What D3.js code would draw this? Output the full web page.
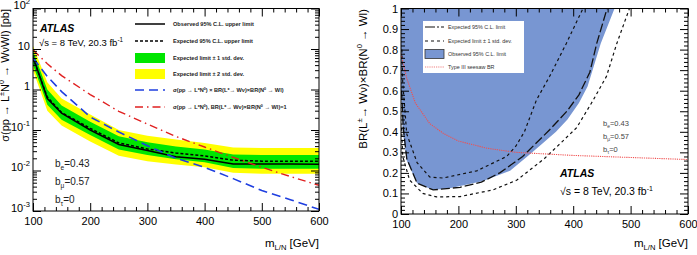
<!DOCTYPE html>
<html>
<head>
<meta charset="utf-8">
<script src="https://cdn.jsdelivr.net/npm/d3@7"></script>
<style>
  body { margin: 0; background: #fff; }
  svg { display: block; font-family: "Liberation Sans", Arial, Helvetica, sans-serif; }
</style>
</head>
<body>
<div id="chart"></div>
<script>
const
  WIDTH = 697,
  HEIGHT = 255,
  MAJOR_TICK = 8,
  MINOR_TICK = 4;

// left panel: cross-section limits vs mass
const massLeft = [100, 125, 150, 200, 250, 300, 350, 400, 450, 500, 550, 600];
const observedXs = [6.5, 0.6, 0.26, 0.1, 0.044, 0.031, 0.022, 0.019, 0.0145, 0.0145, 0.0145, 0.0142];
const expectedXs = [6, 0.65, 0.27, 0.11, 0.048, 0.034, 0.027, 0.023, 0.018, 0.017, 0.017, 0.017];
const green1Lo = [4, 0.42, 0.18, 0.075, 0.033, 0.024, 0.019, 0.016, 0.0115, 0.011, 0.011, 0.011];
const green1Hi = [9, 1.0, 0.4, 0.16, 0.07, 0.05, 0.039, 0.033, 0.025, 0.024, 0.024, 0.024];
const yellow2Lo = [3, 0.3, 0.13, 0.052, 0.023, 0.017, 0.014, 0.012, 0.0088, 0.0083, 0.0083, 0.0083];
const yellow2Hi = [12, 1.5, 0.6, 0.24, 0.1, 0.072, 0.058, 0.048, 0.037, 0.036, 0.036, 0.036];
const theoryBR = [6, 2.1, 0.89, 0.21, 0.089, 0.041, 0.02, 0.012, 0.0063, 0.0032, 0.0019, 0.0011];
const theoryBR1 = [9.5, 4.3, 2.2, 0.75, 0.29, 0.14, 0.069, 0.038, 0.021, 0.012, 0.0071, 0.0043];
const logTicks = [1e-3, 1e-2, 1e-1, 1, 10, 100];
const massTicks = [100, 200, 300, 400, 500, 600];

// right panel: BR product limit vs mass
const obsEdgeMass = [100, 103, 110, 128, 156, 185, 243, 290, 320, 345, 370, 390, 410, 425, 448, 472];
const obsEdgeBR = [0.6, 0.4, 0.26, 0.15, 0.117, 0.125, 0.16, 0.21, 0.28, 0.34, 0.4, 0.46, 0.54, 0.62, 0.83, 1.0];
const expMass = [101, 104, 110, 128, 156, 203, 240, 272, 312, 359, 389, 410, 429, 441, 459];
const expBR = [0.6, 0.42, 0.27, 0.15, 0.117, 0.13, 0.155, 0.2, 0.28, 0.41, 0.5, 0.58, 0.69, 0.83, 1.0];
const upMass = [101.5, 103, 110, 128, 150, 173, 232, 284, 300, 315, 336, 359, 388, 417];
const upBR = [0.8, 0.64, 0.39, 0.25, 0.18, 0.175, 0.21, 0.28, 0.33, 0.4, 0.555, 0.67, 0.83, 1.0];
const downMass = [101, 103, 115, 138, 162, 203, 260, 302, 350, 380, 406, 434, 458, 476, 498];
const downBR = [0.42, 0.28, 0.165, 0.1, 0.083, 0.085, 0.117, 0.165, 0.27, 0.35, 0.42, 0.55, 0.67, 0.83, 1.0];
const seesawMass = [100, 110, 125, 150, 175, 200, 250, 300, 400, 500, 600];
const seesawBR = [0.78, 0.66, 0.54, 0.44, 0.39, 0.355, 0.32, 0.30, 0.285, 0.275, 0.265];
const brTicks = [0, 0.1, 0.2, 0.3, 0.4, 0.5, 0.6, 0.7, 0.8, 0.9, 1];

const fillBlue = '#7896d2';

const svg = d3.select('#chart')
  .append('svg')
  .attr('width', WIDTH)
  .attr('height', HEIGHT);

// text with super/subscripts: parts = [[str, 'sup'|'sub'|null], ...]
function richText(sel, parts, size) {
  let shift = 0;
  parts.forEach(([str, kind]) => {
    const target = kind === 'sup' ? -0.42 * size : kind === 'sub' ? 0.28 * size : 0;
    const t = sel.append('tspan').attr('dy', target - shift).text(str);
    if (kind) t.attr('font-size', size * 0.66);
    shift = target;
  });
  return sel;
}

function cleanAxis(g) {
  g.attr('font-family', null).attr('font-size', 11);
  g.select('.domain').remove();
}

function addMassAxes(g, x, top, bottom) {
  const minors = d3.range(100, 601, 20).filter(v => v % 100 !== 0);

  g.append('g')
    .attr('transform', `translate(0,${bottom})`)
    .call(d3.axisBottom(x).tickValues(massTicks).tickSizeInner(-MAJOR_TICK).tickSizeOuter(0).tickPadding(6))
    .call(cleanAxis);
  g.append('g')
    .attr('transform', `translate(0,${bottom})`)
    .call(d3.axisBottom(x).tickValues(minors).tickSizeInner(-MINOR_TICK).tickSizeOuter(0).tickFormat(''))
    .call(cleanAxis);
  g.append('g')
    .attr('transform', `translate(0,${top})`)
    .call(d3.axisTop(x).tickValues(massTicks).tickSizeInner(-MAJOR_TICK).tickSizeOuter(0).tickFormat(''))
    .call(cleanAxis);
  g.append('g')
    .attr('transform', `translate(0,${top})`)
    .call(d3.axisTop(x).tickValues(minors).tickSizeInner(-MINOR_TICK).tickSizeOuter(0).tickFormat(''))
    .call(cleanAxis);
}

function addFrame(g, x0, y0, x1, y1) {
  g.append('rect')
    .attr('x', x0).attr('y', y0)
    .attr('width', x1 - x0).attr('height', y1 - y0)
    .attr('fill', 'none')
    .attr('stroke', '#000')
    .attr('stroke-width', 1);
}

function addClip(id, x0, y0, x1, y1) {
  svg.append('clipPath').attr('id', id)
    .append('rect')
    .attr('x', x0).attr('y', y0)
    .attr('width', x1 - x0).attr('height', y1 - y0);
}

function addMassTitle(g, xEnd) {
  richText(g.append('text')
    .attr('x', xEnd).attr('y', 247)
    .attr('text-anchor', 'end')
    .attr('font-size', 11.5), [['m', null], ['L/N', 'sub'], [' [GeV]', null]], 11.5);
}

function drawLeft() {
  const x0 = 33, x1 = 319, y0 = 8.5, y1 = 211;
  const x = d3.scaleLinear().domain([100, 600]).range([x0, x1]);
  const y = d3.scaleLog().domain([1e-3, 1e2]).range([y1, y0]);
  const g = svg.append('g');

  addClip('clipL', x0, y0, x1, y1);
  const plot = g.append('g').attr('clip-path', 'url(#clipL)');

  const band = (lo, hi) => d3.area()
    .x((d, i) => x(massLeft[i]))
    .y0((d, i) => y(lo[i]))
    .y1((d, i) => y(hi[i]));
  const curve = (vals) => d3.line()
    .x((d, i) => x(massLeft[i]))
    .y((d, i) => y(vals[i]));

  plot.append('path').datum(massLeft).attr('d', band(yellow2Lo, yellow2Hi)).attr('fill', '#ffff00');
  plot.append('path').datum(massLeft).attr('d', band(green1Lo, green1Hi)).attr('fill', '#00e600');

  const lines = [
    { vals: expectedXs, color: '#000', dash: '3,2', width: 1.5 },
    { vals: observedXs, color: '#000', dash: null, width: 1.5 },
    { vals: theoryBR, color: '#1f3fe0', dash: '9,5', width: 1.6 },
    { vals: theoryBR1, color: '#e02020', dash: '8,4,1.5,4', width: 1.4 }
  ];
  lines.forEach(l => {
    plot.append('path').datum(massLeft)
      .attr('d', curve(l.vals))
      .attr('fill', 'none')
      .attr('stroke', l.color)
      .attr('stroke-width', l.width)
      .attr('stroke-dasharray', l.dash);
  });

  addMassAxes(g, x, y0, y1);

  const logMinors = [];
  logTicks.slice(0, -1).forEach(t => d3.range(2, 10).forEach(k => logMinors.push(t * k)));

  const yAxis = g.append('g')
    .attr('transform', `translate(${x0},0)`)
    .call(d3.axisLeft(y).tickValues(logTicks).tickSizeInner(-MAJOR_TICK).tickSizeOuter(0).tickPadding(3).tickFormat(''))
    .call(cleanAxis);
  yAxis.selectAll('.tick text').each(function (d) {
    const e = Math.round(Math.log10(d));
    const parts = e === 0 ? [['1', null]] : e === 1 ? [['10', null]] : [['10', null], [String(e), 'sup']];
    richText(d3.select(this), parts, 11.5);
  });
  g.append('g')
    .attr('transform', `translate(${x0},0)`)
    .call(d3.axisLeft(y).tickValues(logMinors).tickSizeInner(-MINOR_TICK).tickSizeOuter(0).tickFormat(''))
    .call(cleanAxis);
  g.append('g')
    .attr('transform', `translate(${x1},0)`)
    .call(d3.axisRight(y).tickValues(logTicks).tickSizeInner(-MAJOR_TICK).tickSizeOuter(0).tickFormat(''))
    .call(cleanAxis);
  g.append('g')
    .attr('transform', `translate(${x1},0)`)
    .call(d3.axisRight(y).tickValues(logMinors).tickSizeInner(-MINOR_TICK).tickSizeOuter(0).tickFormat(''))
    .call(cleanAxis);

  addFrame(g, x0, y0, x1, y1);
  addMassTitle(g, x1);

  // y title, clipped by the window edge as in the original
  richText(g.append('text')
    .attr('transform', 'translate(9,9) rotate(-90)')
    .attr('text-anchor', 'end')
    .attr('font-size', 11), [['σ(pp → L', null], ['±', 'sup'], ['N', null], ['0', 'sup'], [' → WνWl) [pb]', null]], 11);

  // labels
  g.append('text').attr('x', 40).attr('y', 31.5)
    .attr('font-size', 10.5).attr('font-weight', 'bold').attr('font-style', 'italic')
    .text('ATLAS');
  richText(g.append('text').attr('x', 39).attr('y', 45.5).attr('font-size', 9.5),
    [['√s = 8 TeV, 20.3 fb', null], ['-1', 'sup']], 9.5);

  [['e', '0.43'], ['μ', '0.57'], ['τ', '0']].forEach(([flav, val], i) => {
    richText(g.append('text').attr('x', 55).attr('y', 167 + i * 18).attr('font-size', 10).attr('fill', '#222'),
      [['b', null], [flav, 'sub'], ['=' + val, null]], 10);
  });

  // legend
  const legend = g.append('g');
  const rowsY = [24, 41, 58, 74, 90, 107];
  const sx0 = 135, sx1 = 165;
  const legendItems = [
    { type: 'line', color: '#000', dash: null, width: 1.5, text: [['Observed 95% C.L. upper limit', null]] },
    { type: 'line', color: '#000', dash: '3,2', width: 1.5, text: [['Expected 95% C.L. upper limit', null]] },
    { type: 'box', color: '#00e600', text: [['Expected limit ± 1 std. dev.', null]] },
    { type: 'box', color: '#ffff00', text: [['Expected limit ± 2 std. dev.', null]] },
    { type: 'line', color: '#1f3fe0', dash: '9,5', width: 1.6,
      text: [['σ(pp → L', null], ['±', 'sup'], ['N', null], ['0', 'sup'], [') × BR(L', null], ['±', 'sup'], ['→ Wν)×BR(N', null], ['0', 'sup'], [' → Wl)', null]] },
    { type: 'line', color: '#e02020', dash: '8,4,1.5,4', width: 1.4,
      text: [['σ(pp → L', null], ['±', 'sup'], ['N', null], ['0', 'sup'], ['),  BR(L', null], ['±', 'sup'], ['→ Wν)×BR(N', null], ['0', 'sup'], [' → Wl)=1', null]] }
  ];
  legendItems.forEach((item, i) => {
    const cy = rowsY[i];
    if (item.type === 'box') {
      legend.append('rect').attr('x', sx0).attr('y', cy - 5).attr('width', sx1 - sx0).attr('height', 10).attr('fill', item.color);
    } else {
      legend.append('line').attr('x1', sx0).attr('x2', sx1).attr('y1', cy).attr('y2', cy)
        .attr('stroke', item.color).attr('stroke-width', item.width).attr('stroke-dasharray', item.dash);
    }
    richText(legend.append('text').attr('x', 173).attr('y', cy + 2)
      .attr('font-size', 5.6).attr('font-weight', 'bold').attr('fill', '#222'), item.text, 5.6);
  });
}

function drawRight() {
  const x0 = 401, x1 = 688, y0 = 8.5, y1 = 214;
  const x = d3.scaleLinear().domain([100, 600]).range([x0, x1]);
  const y = d3.scaleLinear().domain([0, 1]).range([y1, y0]);
  const g = svg.append('g');

  addClip('clipR', x0, y0, x1, y1);
  const plot = g.append('g').attr('clip-path', 'url(#clipR)');

  const line = d3.line().x(d => x(d[0])).y(d => y(d[1]));
  const zipped = (ms, vs) => ms.map((m, i) => [m, vs[i]]);

  const obsPoly = zipped(obsEdgeMass, obsEdgeBR).concat([[obsEdgeMass[obsEdgeMass.length - 1], 1.02], [99, 1.02], [99, obsEdgeBR[0]]]);
  plot.append('path').attr('d', line(obsPoly) + 'Z').attr('fill', fillBlue);

  [[upMass, upBR], [downMass, downBR]].forEach(([ms, vs]) => {
    plot.append('path').attr('d', line(zipped(ms, vs)))
      .attr('fill', 'none').attr('stroke', '#111').attr('stroke-width', 1.2).attr('stroke-dasharray', '3,3');
  });
  plot.append('path').attr('d', line(zipped(expMass, expBR)))
    .attr('fill', 'none').attr('stroke', '#111').attr('stroke-width', 1.3).attr('stroke-dasharray', '9,3');

  plot.append('path').attr('d', line(zipped(seesawMass, seesawBR)))
    .attr('fill', 'none').attr('stroke', '#f05050').attr('stroke-width', 1.1).attr('stroke-dasharray', '1.2,1');

  addMassAxes(g, x, y0, y1);

  const brMinors = d3.range(0, 1.001, 0.02).filter(v => Math.abs(v * 10 - Math.round(v * 10)) > 1e-6);
  g.append('g')
    .attr('transform', `translate(${x0},0)`)
    .call(d3.axisLeft(y).tickValues(brTicks).tickSizeInner(-MAJOR_TICK).tickSizeOuter(0).tickPadding(3).tickFormat(d3.format('~g')))
    .call(cleanAxis);
  g.append('g')
    .attr('transform', `translate(${x0},0)`)
    .call(d3.axisLeft(y).tickValues(brMinors).tickSizeInner(-MINOR_TICK).tickSizeOuter(0).tickFormat(''))
    .call(cleanAxis);
  g.append('g')
    .attr('transform', `translate(${x1},0)`)
    .call(d3.axisRight(y).tickValues(brTicks).tickSizeInner(-MAJOR_TICK).tickSizeOuter(0).tickFormat(''))
    .call(cleanAxis);
  g.append('g')
    .attr('transform', `translate(${x1},0)`)
    .call(d3.axisRight(y).tickValues(brMinors).tickSizeInner(-MINOR_TICK).tickSizeOuter(0).tickFormat(''))
    .call(cleanAxis);

  addFrame(g, x0, y0, x1, y1);
  addMassTitle(g, x1);

  richText(g.append('text')
    .attr('transform', 'translate(367,9) rotate(-90)')
    .attr('text-anchor', 'end')
    .attr('font-size', 11.5), [['BR(L', null], ['±', 'sup'], ['→ Wν)×BR(N', null], ['0', 'sup'], [' → Wl)', null]], 11.5);

  // legend
  const legend = g.append('g');
  legend.append('rect').attr('x', 423).attr('y', 21).attr('width', 101).attr('height', 52).attr('fill', '#fff');
  const rowsY = [27, 41, 54, 67];
  const sx0 = 425, sx1 = 444;
  const legendItems = [
    { type: 'line', color: '#111', dash: '10,2,2,2', text: 'Expected 95% C.L. limit' },
    { type: 'line', color: '#111', dash: '3,3', text: 'Expected limit ± 1 std. dev.' },
    { type: 'box', color: fillBlue, text: 'Observed 95% C.L. limit' },
    { type: 'line', color: '#f08080', dash: '1.2,1', text: 'Type III seesaw BR' }
  ];
  legendItems.forEach((item, i) => {
    const cy = rowsY[i];
    if (item.type === 'box') {
      legend.append('rect').attr('x', sx0).attr('y', cy - 4.5).attr('width', sx1 - sx0).attr('height', 9)
        .attr('fill', item.color).attr('stroke', '#333').attr('stroke-width', 0.8);
    } else {
      legend.append('line').attr('x1', sx0).attr('x2', sx1).attr('y1', cy).attr('y2', cy)
        .attr('stroke', item.color).attr('stroke-width', 1.2).attr('stroke-dasharray', item.dash);
    }
    legend.append('text').attr('x', 448).attr('y', cy + 2)
      .attr('font-size', 5.4).attr('fill', '#333').text(item.text);
  });

  // labels
  [['e', '0.43'], ['μ', '0.57'], ['τ', '0']].forEach(([flav, val], i) => {
    richText(g.append('text').attr('x', 603).attr('y', 126 + i * 13).attr('font-size', 7.5).attr('fill', '#444'),
      [['b', null], [flav, 'sub'], ['=' + val, null]], 7.5);
  });
  g.append('text').attr('x', 560).attr('y', 177)
    .attr('font-size', 10.5).attr('font-weight', 'bold').attr('font-style', 'italic')
    .text('ATLAS');
  richText(g.append('text').attr('x', 560).attr('y', 195).attr('font-size', 10.5),
    [['√s = 8 TeV, 20.3 fb', null], ['-1', 'sup']], 10.5);
}

drawLeft();
drawRight();
</script>
</body>
</html>
